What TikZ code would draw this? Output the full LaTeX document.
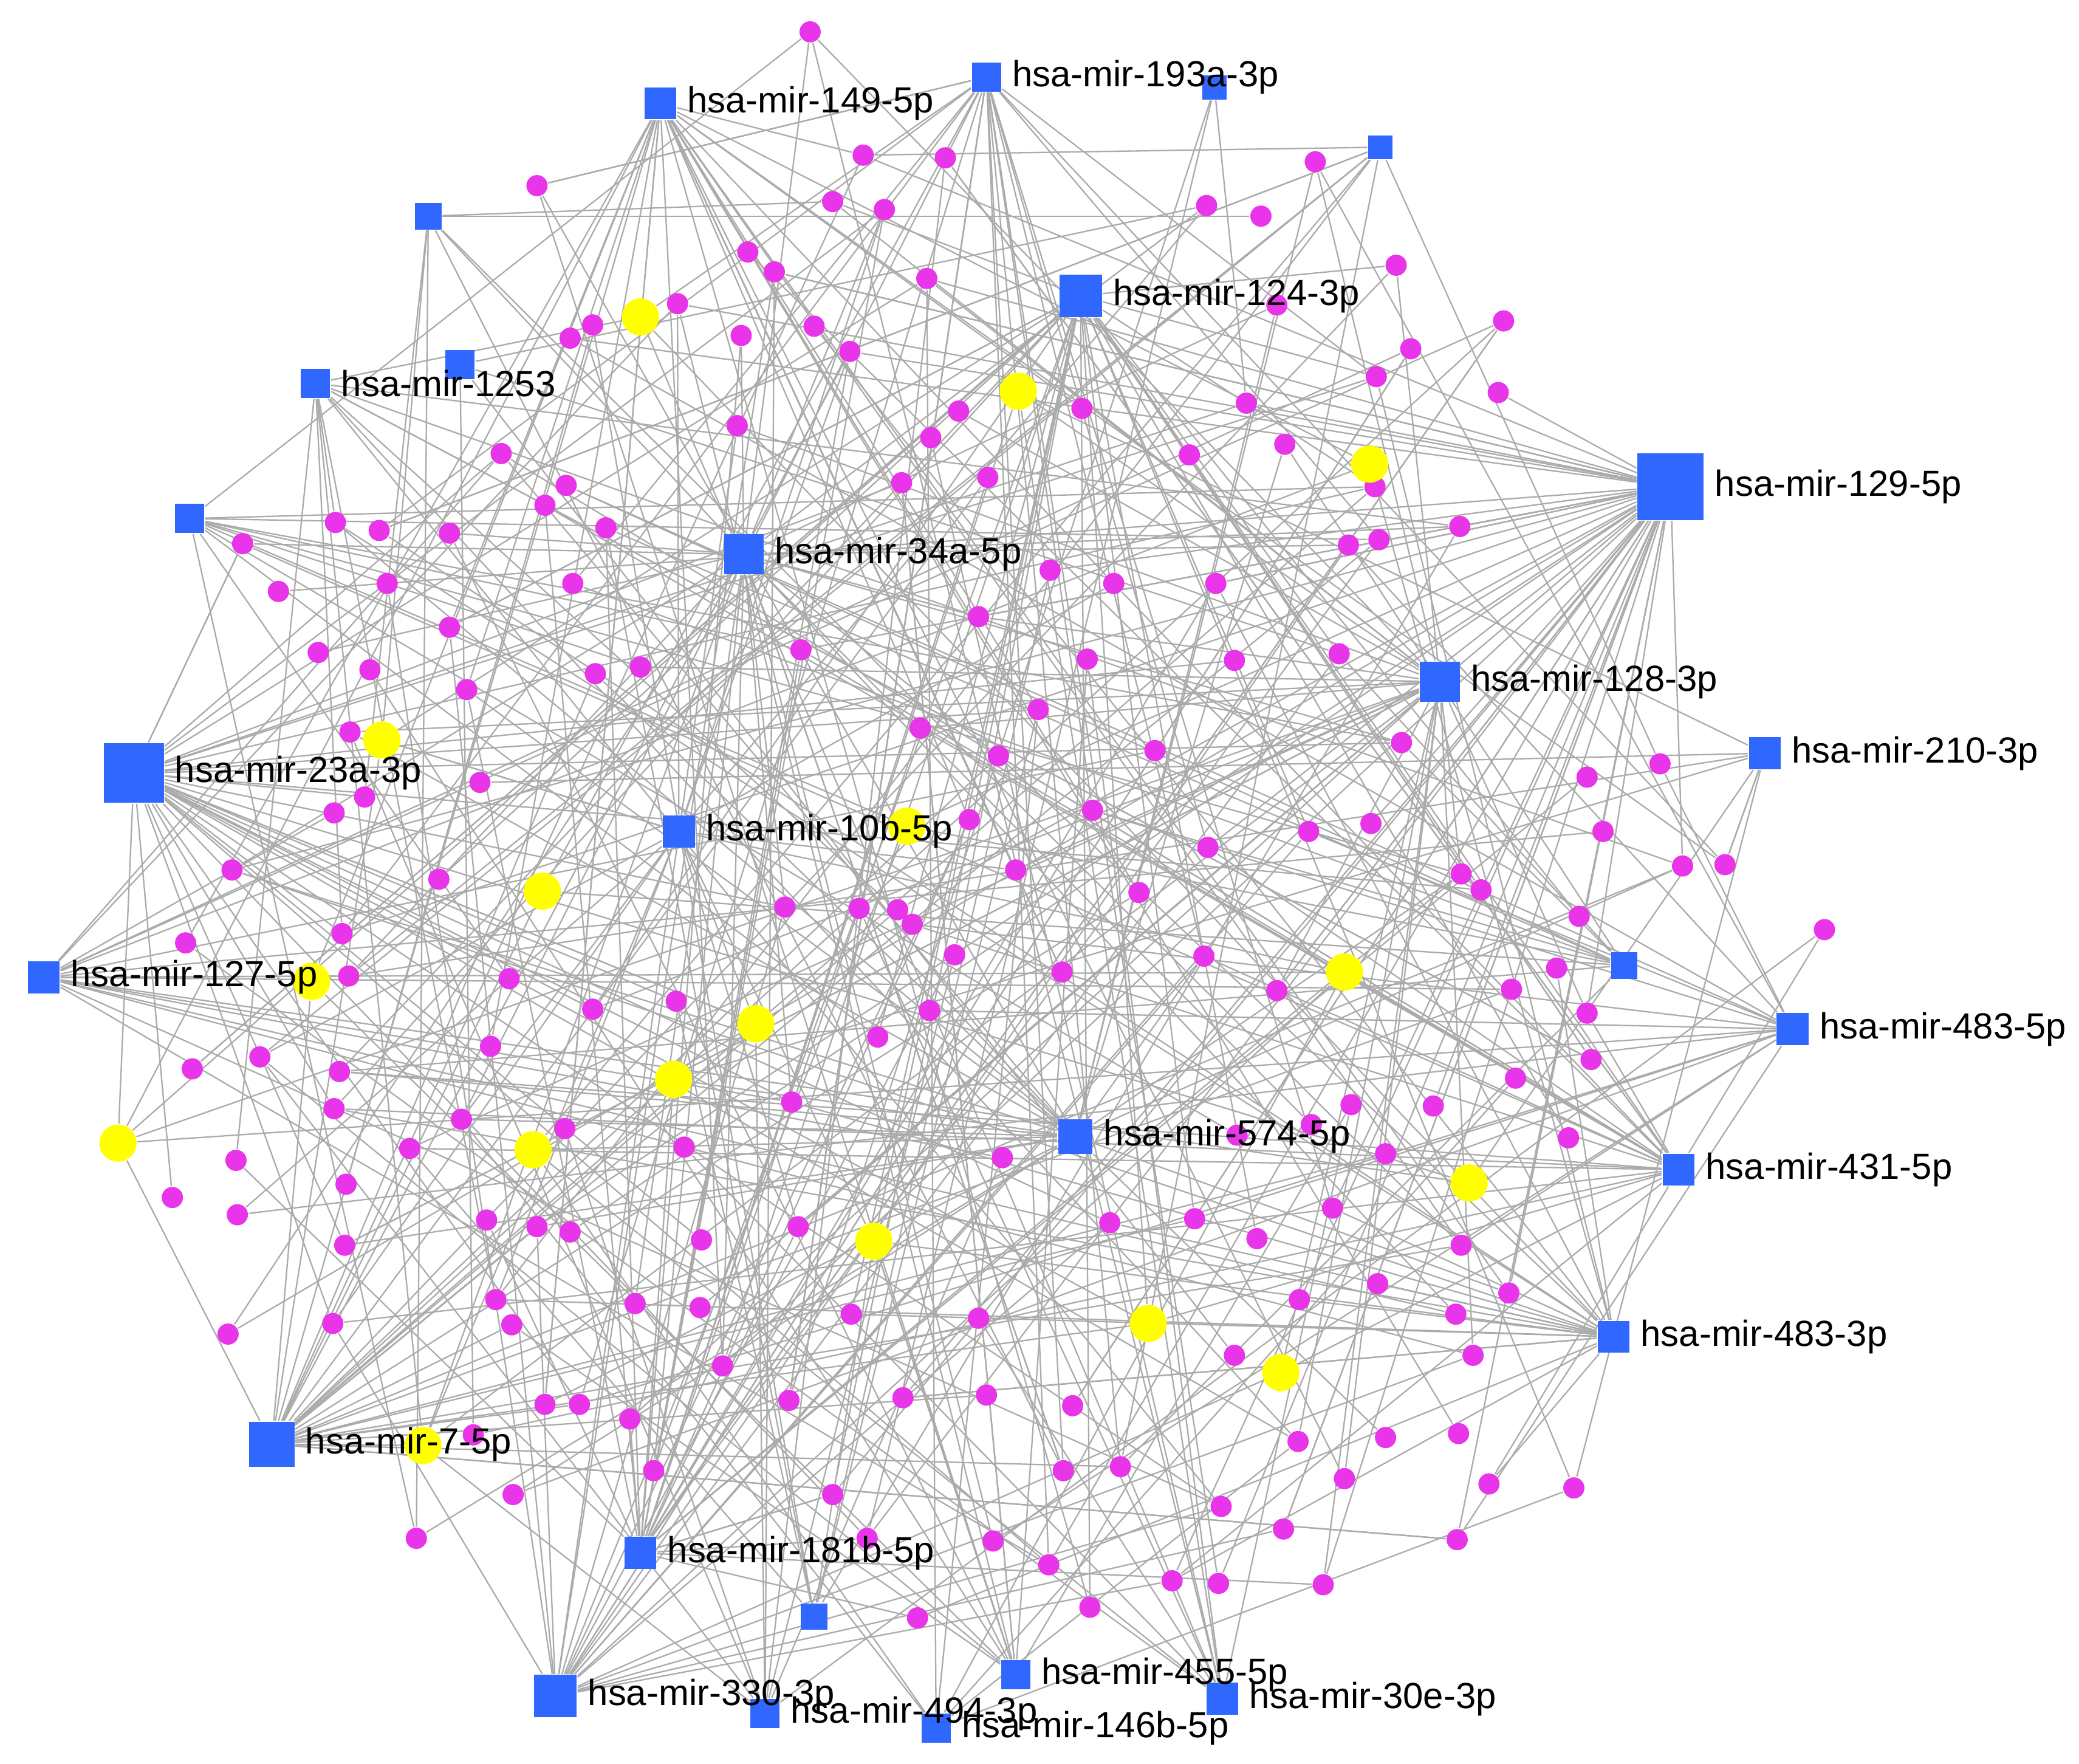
\documentclass[tikz,border=0pt]{standalone}
\usepackage{fontspec}
\setmainfont{Liberation Sans}
\pgfdeclarelayer{bg}
\pgfsetlayers{bg,main}
\definecolor{hubblue}{HTML}{3068FF}
\definecolor{magdot}{HTML}{E935E9}
\definecolor{yeldot}{HTML}{FFFF00}
\tikzset{
  hub/.style={rectangle, fill=hubblue, inner sep=0pt, minimum size=#1*0.2845pt},
  tgt/.style={circle, fill=magdot, inner sep=0pt, minimum size=16*0.2845pt},
  ylw/.style={circle, fill=yeldot, inner sep=0pt, minimum size=28*0.2845pt},
  lab/.style={anchor=west, inner sep=1pt, text=black, font=\fontsize{7.8}{9}\selectfont},
  edge/.style={draw=black!33, line width=0.3pt}
}
\def\maglist{611/24, 405/140, 651/117, 713/119, 992/122, 628/152, 667/158, 910/155, 951/163, 1053/200,
564/190, 584/205, 699/210, 511/229, 447/245, 430/255, 559/253, 614/246, 641/265, 963/230,
1134/242, 1064/263, 1038/284, 1130/296, 940/304, 816/308, 723/310, 702/330, 556/321, 969/335,
897/343, 745/360, 680/364, 378/342, 427/366, 411/381, 457/398, 1101/397, 1037/367, 1040/407,
1017/411, 253/394, 286/400, 339/402, 183/410, 210/446, 292/440, 432/440, 792/430, 840/440,
917/440, 738/465, 339/473, 240/492, 279/505, 352/520, 449/508, 483/503, 604/490, 820/497,
931/498, 1010/493, 264/552, 783/535, 694/549, 753/570, 871/566, 1057/560, 1197/586, 1252/576,
362/590, 252/613, 275/601, 731/618, 824/611, 911/639, 987/627, 1034/621, 1209/627, 1269/653,
1301/652, 175/656, 331/663, 766/656, 592/684, 648/685, 677/686, 688/697, 859/673, 1102/659,
1117/671, 1191/691, 1376/701, 140/711, 258/704, 263/736, 720/720, 908/721, 801/733, 1174/730,
1140/746, 963/747, 384/738, 447/761, 510/755, 701/762, 1197/764, 662/782, 370/789, 196/797,
145/806, 256/808, 1200/799, 1143/813, 1019/833, 1081/834, 989/848, 597/831, 516/865, 426/851,
348/844, 309/866, 252/836, 933/856, 1183/858, 178/875, 261/893, 130/903, 756/873, 1045/870,
179/916, 367/920, 405/925, 430/929, 529/935, 602/925, 837/922, 901/919, 948/934, 1005/911,
1102/939, 260/939, 374/980, 386/999, 479/983, 528/986, 642/991, 738/994, 1039/968, 980/980,
1138/975, 1098/991, 172/1006, 251/998, 545/1030, 595/1056, 681/1054, 744/1052, 809/1060, 931/1022,
1111/1022, 411/1059, 437/1059, 475/1070, 357/1082, 979/1087, 1045/1084, 1100/1081, 493/1109, 845/1106,
802/1109, 921/1136, 1014/1115, 1123/1119, 1187/1122, 387/1127, 628/1127, 968/1153, 1099/1161, 314/1160,
749/1162, 654/1160, 791/1180, 884/1192, 919/1194, 998/1195, 822/1212, 692/1220}
\def\yellist{483/239, 768/295, 1033/350, 288/558, 684/623, 409/672, 235/740, 1014/733, 570/772,
508/814, 89/862, 402/867, 1108/892, 659/936, 866/998, 966/1035, 319/1090}
\pgfmathdeclarerandomlist{hubs}{{h129}{h129}{h129}{h129}{h129}{h129}{h129}{h129}{h129}{h129}
{h23a}{h23a}{h23a}{h23a}{h23a}{h23a}{h23a}{h23a}{h23a}
{h7}{h7}{h7}{h7}{h7}{h7}{h124}{h124}{h124}{h124}{h124}{h124}
{h330}{h330}{h330}{h330}{h330}{h34a}{h34a}{h34a}{h34a}{h34a}
{h128}{h128}{h128}{h128}{h128}{h128}{h574}{h574}{h574}{h10b}{h10b}{h10b}
{h181}{h181}{h181}{h1253}{h1253}{h1253}{h1253}{h149}{h149}{h149}{h149}
{h193}{h193}{h193}{h193}{h210}{h210}{h210}{h483a}{h483a}{h483a}
{h431}{h431}{h431}{h431}{h483b}{h483b}{h483b}{h127}{h127}{h127}{h127}
{h455}{h455}{h455}{h30e}{h30e}{h30e}{h494}{h494}{h146}{h146}
{u1}{u2}{u2}{u3}{u3}{u4}{u4}{u5}{u5}{u6}{u6}{u7}{u7}}
\begin{document}
\begin{tikzpicture}[x=0.01cm, y=-0.01cm]
\useasboundingbox (0,0) rectangle (1568,1330);
\pgfmathsetseed{7}
% target nodes
\foreach \x/\y [count=\i] in \maglist { \node[tgt] (m\i) at (\x,\y) {}; }
\foreach \x/\y [count=\i] in \yellist { \node[ylw] (y\i) at (\x,\y) {}; }
% miRNA hubs
\node[hub=22] (h193) at (744,58) {};
\node[hub=18] (u1) at (916,66) {};
\node[hub=24] (h149) at (498,78) {};
\node[hub=18] (u2) at (1041,111) {};
\node[hub=20] (u3) at (323,163) {};
\node[hub=32] (h124) at (815,223) {};
\node[hub=22] (u4) at (347,275) {};
\node[hub=22] (h1253) at (238,289) {};
\node[hub=50] (h129) at (1260,367) {};
\node[hub=22] (u5) at (143,391) {};
\node[hub=30] (h34a) at (561,418) {};
\node[hub=30] (h128) at (1086,514) {};
\node[hub=24] (h210) at (1331,568) {};
\node[hub=45] (h23a) at (101,583) {};
\node[hub=24] (h10b) at (512,627) {};
\node[hub=24] (h127) at (33,737) {};
\node[hub=20] (u6) at (1225,728) {};
\node[hub=24] (h483a) at (1352,776) {};
\node[hub=26] (h574) at (811,857) {};
\node[hub=24] (h431) at (1266,882) {};
\node[hub=24] (h483b) at (1217,1008) {};
\node[hub=34] (h7) at (205,1089) {};
\node[hub=24] (h181) at (483,1171) {};
\node[hub=20] (u7) at (614,1219) {};
\node[hub=22] (h455) at (766,1263) {};
\node[hub=32] (h330) at (419,1279) {};
\node[hub=24] (h30e) at (922,1281) {};
\node[hub=22] (h494) at (577,1292) {};
\node[hub=22] (h146) at (706,1303) {};
% edges
\begin{pgfonlayer}{bg}
\foreach \x/\y [count=\i] in \maglist {
  \pgfmathrandominteger{\k}{1}{4}
  \foreach \j in {1,...,\k} {
    \pgfmathrandomitem{\h}{hubs}
    \draw[edge] (\h) -- (m\i);
  }
}
\foreach \x/\y [count=\i] in \yellist {
  \pgfmathrandominteger{\k}{3}{6}
  \foreach \j in {1,...,\k} {
    \pgfmathrandomitem{\h}{hubs}
    \draw[edge] (\h) -- (y\i);
  }
}
\end{pgfonlayer}
% labels
\node[lab] (l193) at ([xshift=1pt]h193.east) {hsa-mir-193a-3p};
\node[lab] (l149) at ([xshift=1pt]h149.east) {hsa-mir-149-5p};
\node[lab] (l124) at ([xshift=1pt]h124.east) {hsa-mir-124-3p};
\node[lab] (l1253) at ([xshift=1pt]h1253.east) {hsa-mir-1253};
\node[lab] (l129) at ([xshift=1pt]h129.east) {hsa-mir-129-5p};
\node[lab] (l34a) at ([xshift=1pt]h34a.east) {hsa-mir-34a-5p};
\node[lab] (l128) at ([xshift=1pt]h128.east) {hsa-mir-128-3p};
\node[lab] (l210) at ([xshift=1pt]h210.east) {hsa-mir-210-3p};
\node[lab] (l23a) at ([xshift=1pt]h23a.east) {hsa-mir-23a-3p};
\node[lab] (l10b) at ([xshift=1pt]h10b.east) {hsa-mir-10b-5p};
\node[lab] (l127) at ([xshift=1pt]h127.east) {hsa-mir-127-5p};
\node[lab] (l483a) at ([xshift=1pt]h483a.east) {hsa-mir-483-5p};
\node[lab] (l574) at ([xshift=1pt]h574.east) {hsa-mir-574-5p};
\node[lab] (l431) at ([xshift=1pt]h431.east) {hsa-mir-431-5p};
\node[lab] (l483b) at ([xshift=1pt]h483b.east) {hsa-mir-483-3p};
\node[lab] (l7) at ([xshift=1pt]h7.east) {hsa-mir-7-5p};
\node[lab] (l181) at ([xshift=1pt]h181.east) {hsa-mir-181b-5p};
\node[lab] (l455) at ([xshift=1pt]h455.east) {hsa-mir-455-5p};
\node[lab] (l330) at ([xshift=1pt]h330.east) {hsa-mir-330-3p};
\node[lab] (l30e) at ([xshift=1pt]h30e.east) {hsa-mir-30e-3p};
\node[lab] (l494) at ([xshift=1pt]h494.east) {hsa-mir-494-3p};
\node[lab] (l146) at ([xshift=1pt]h146.east) {hsa-mir-146b-5p};
\end{tikzpicture}
\end{document}
